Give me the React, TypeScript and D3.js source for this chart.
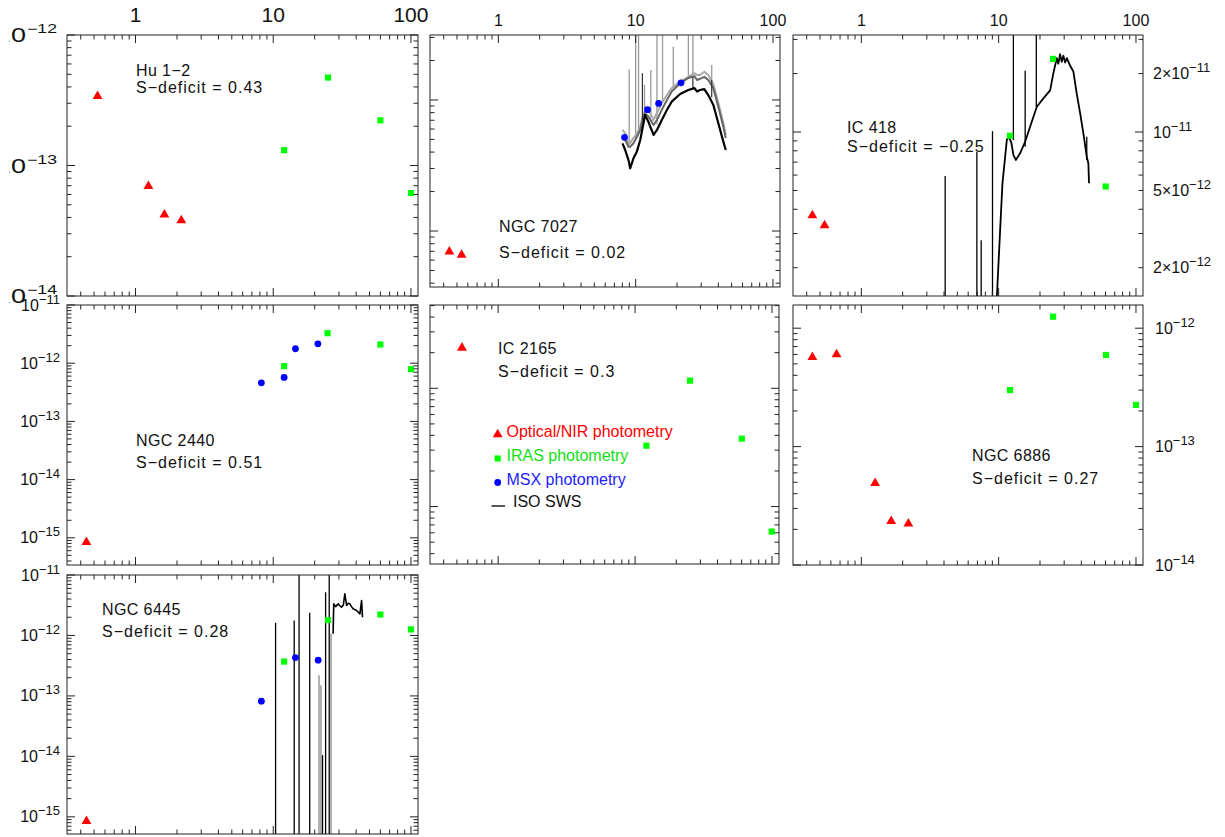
import * as d3 from 'd3';

type Pt = [number, number];
type Seg = [number, number, number]; // wavelength, low flux, high flux

// wavelength axis (micron), shared by every panel
const xDomain: [number, number] = [0.318, 112.5];
const xTickLabels = [1, 10, 100];

// y tick labels
const hu12YTicks = [1e-12, 1e-13, 1e-14];
const ic418YTicks = [2e-11, 1e-11, 5e-12, 2e-12];
const ngc2440YTicks = [1e-11, 1e-12, 1e-13, 1e-14, 1e-15];
const ngc6886YTicks = [1e-12, 1e-13, 1e-14];
const ngc6445YTicks = [1e-11, 1e-12, 1e-13, 1e-14, 1e-15];

// Hu 1-2
const hu12Optical: Pt[] = [[0.53, 3.4e-13], [1.24, 6.95e-14], [1.62, 4.2e-14], [2.15, 3.8e-14]];
const hu12Iras: Pt[] = [[12, 1.31e-13], [25, 4.72e-13], [60, 2.22e-13], [100, 6.15e-14]];

// NGC 7027
const ngc7027Optical: Pt[] = [[0.44, 6.95e-12], [0.54, 6.56e-12]];
const ngc7027Msx: Pt[] = [[8.3, 5.19e-11], [12.2, 8.43e-11], [14.7, 9.4e-11], [21.4, 1.35e-10]];
const ngc7027SwsWave = [8.02, 8.39, 8.87, 9.12, 9.64, 10.2, 10.8, 11.4, 11.7, 12.4, 13.5, 14.3, 15.5, 16.9, 18.3, 21.1, 24.2, 26.8, 28.0, 29.4, 31.6, 33.8, 36.8, 40.0, 43.5, 45.3];
const ngc7027SwsBlack = [4.67e-11, 4.15e-11, 3.48e-11, 3.01e-11, 3.59e-11, 4.03e-11, 4.95e-11, 6.64e-11, 7.68e-11, 6.79e-11, 5.41e-11, 5.9e-11, 7.03e-11, 8.4e-11, 9.7e-11, 1.11e-10, 1.19e-10, 1.23e-10, 1.16e-10, 1.19e-10, 1.21e-10, 1.09e-10, 9.16e-11, 6.64e-11, 4.81e-11, 4.15e-11];
const ngc7027SwsDark = [5.22e-11, 4.95e-11, 4.4e-11, 4.38e-11, 4.67e-11, 5.22e-11, 5.9e-11, 7.55e-11, 7.91e-11, 7.46e-11, 6.44e-11, 7.03e-11, 8.4e-11, 1.0e-10, 1.16e-10, 1.34e-10, 1.47e-10, 1.52e-10, 1.42e-10, 1.45e-10, 1.5e-10, 1.42e-10, 1.23e-10, 8.89e-11, 6.25e-11, 5.11e-11];
const ngc7027SwsLight = [5.9e-11, 5.57e-11, 4.53e-11, 4.7e-11, 5.13e-11, 5.5e-11, 6.25e-11, 7.91e-11, 8.24e-11, 8.4e-11, 7.03e-11, 7.96e-11, 9.48e-11, 1.09e-10, 1.23e-10, 1.38e-10, 1.5e-10, 1.6e-10, 1.55e-10, 1.55e-10, 1.64e-10, 1.55e-10, 1.32e-10, 9.48e-11, 6.67e-11, 5.41e-11];
const ngc7027LinesGray: Seg[] = [[8.97, 4.53e-11, 1.71e-10], [10.0, 5.1e-11, 1e-9], [10.5, 5.6e-11, 1e-9], [11.6, 7.9e-11, 1.3e-10], [12.9, 7.4e-11, 1.69e-10], [14.3, 6.5e-11, 1e-9], [15.7, 9.5e-11, 1e-9], [18.8, 1.24e-10, 2.55e-10], [24.2, 1.5e-10, 1e-9], [26.1, 1.55e-10, 1e-9], [35.8, 1.42e-10, 1.85e-10]];
const ngc7027LinesDark: Seg[] = [[11.2, 7.0e-11, 1.6e-10], [26.1, 1.21e-10, 1.5e-10], [35.8, 1.05e-10, 1.42e-10]];

// IC 418
const ic418Optical: Pt[] = [[0.44, 3.72e-12], [0.54, 3.3e-12]];
const ic418Iras: Pt[] = [[12.1, 9.57e-12], [24.9, 2.38e-11], [60.2, 5.24e-12]];
const ic418SwsWave = [9.65, 10.25, 10.66, 11.15, 11.47, 11.78, 12.33, 12.82, 13.34, 14.33, 15.58, 16.95, 18.96, 21.17, 23.7, 25.04, 26.5, 27.2, 28.0, 28.8, 29.6, 30.5, 31.4, 33.1, 35.0, 37.0, 39.2, 41.4, 43.8, 45.0, 45.5];
const ic418SwsFlux = [1.3e-12, 3.13e-12, 5.44e-12, 7.46e-12, 9.1e-12, 9.46e-12, 8.91e-12, 7.6e-12, 7.18e-12, 7.77e-12, 8.91e-12, 1.064e-11, 1.35e-11, 1.49e-11, 1.64e-11, 2.01e-11, 2.4e-11, 2.25e-11, 2.52e-11, 2.3e-11, 2.47e-11, 2.28e-11, 2.4e-11, 2.2e-11, 2.05e-11, 1.58e-11, 1.25e-11, 9.85e-12, 7.46e-12, 6.9e-12, 5.44e-12];
const ic418Lines: Seg[] = [[4.08, 1e-12, 5.93e-12], [6.94, 1e-12, 7.92e-12], [7.46, 1e-12, 2.77e-12], [9.02, 1e-12, 1.01e-11], [12.8, 9.1e-12, 1e-10], [15.6, 8.4e-12, 2.07e-11], [18.8, 1.35e-11, 1e-10], [43.8, 7.18e-12, 9.46e-12]];

// NGC 2440
const ngc2440Optical: Pt[] = [[0.44, 8.4e-16]];
const ngc2440Msx: Pt[] = [[8.2, 4.6e-13], [12.0, 5.7e-13], [14.5, 1.77e-12], [21.1, 2.15e-12]];
const ngc2440Iras: Pt[] = [[12, 8.9e-13], [24.8, 3.28e-12], [60, 2.1e-12], [100, 7.9e-13]];

// IC 2165
const ic2165Optical: Pt[] = [[0.544, 2.2e-12]];
const ic2165Iras: Pt[] = [[12.1, 3.27e-13], [25.2, 1.16e-12], [60.2, 3.75e-13], [99.5, 6.15e-14]];

// NGC 6886
const ngc6886Optical: Pt[] = [[0.44, 5.7e-13], [0.66, 6.0e-13], [1.26, 4.9e-14], [1.65, 2.35e-14], [2.2, 2.23e-14]];
const ngc6886Iras: Pt[] = [[12.1, 3.0e-13], [24.9, 1.25e-12], [60.5, 5.94e-13], [100, 2.25e-13]];

// NGC 6445
const ngc6445Optical: Pt[] = [[0.44, 8.5e-16]];
const ngc6445Msx: Pt[] = [[8.2, 8.2e-14], [14.5, 4.3e-13], [21.2, 3.9e-13]];
const ngc6445Iras: Pt[] = [[12, 3.7e-13], [25, 1.79e-12], [60, 2.22e-12], [100, 1.26e-12]];
const ngc6445SwsWave = [27.2, 27.5, 28.4, 29.6, 30.5, 31.3, 32.3, 33.1, 34.1, 35.0, 36.0, 37.0, 38.0, 40.3, 42.6, 43.8, 44.5];
const ngc6445SwsFlux = [1.07e-12, 3.33e-12, 3.0e-12, 3.33e-12, 3.1e-12, 2.93e-12, 3.2e-12, 4.88e-12, 3.13e-12, 3.4e-12, 3.33e-12, 3.0e-12, 2.76e-12, 2.59e-12, 2.28e-12, 3.78e-12, 2.0e-12];
const ngc6445Lines: Seg[] = [[10.4, 1e-16, 1.62e-12], [14.2, 1e-16, 1.77e-12], [15.4, 1e-16, 1e-10], [18.4, 1e-16, 2.37e-12], [22.8, 1e-16, 1.05e-14], [24.0, 1e-16, 5.19e-12], [25.5, 1e-16, 1e-10]];
const ngc6445LinesGray: Seg[] = [[21.5, 1e-16, 2.19e-13], [22.2, 1e-16, 1.5e-13], [26.3, 1e-16, 1.07e-12]];

const FONT = "'Liberation Sans', Arial, Helvetica, sans-serif";
const RED = '#ff0000';
const GREEN = '#00ff00';
const BLUE = '#0000ff';

const zipPts = (w: number[], f: number[]): Pt[] => w.map((v, i) => [v, f[i]]);

type Series =
  | { kind: 'tri' | 'sq' | 'dot'; pts: Pt[] }
  | { kind: 'line'; pts: Pt[]; color: string; width: number }
  | { kind: 'segs'; segs: Seg[]; color: string; width: number };

type Panel = {
  name: string;
  deficit: string;
  left: number; right: number; top: number; bottom: number;
  yDomain: [number, number];
  textX: number; textY: [number, number];
  topLabelSize?: number; topLabelY?: number;
  yLabels?: { side: 'left' | 'right' | 'bigleft'; values: number[]; x: number };
  series: Series[];
};

const panels: Panel[] = [
  {
    name: 'Hu 1−2', deficit: '0.43', left: 67, right: 418, top: 35, bottom: 296,
    yDomain: [1e-14, 1e-12], textX: 136, textY: [75.5, 93],
    topLabelSize: 21, topLabelY: 22,
    yLabels: { side: 'bigleft', values: hu12YTicks, x: 27 },
    series: [{ kind: 'tri', pts: hu12Optical }, { kind: 'sq', pts: hu12Iras }],
  },
  {
    name: 'NGC 7027', deficit: '0.02', left: 430, right: 780, top: 35, bottom: 287,
    yDomain: [3.74e-12, 3.13e-10], textX: 499, textY: [232, 258],
    topLabelSize: 16, topLabelY: 25.5,
    series: [
      { kind: 'segs', segs: ngc7027LinesGray, color: '#9a9a9a', width: 1.3 },
      { kind: 'line', pts: zipPts(ngc7027SwsWave, ngc7027SwsLight), color: '#a8a8a8', width: 2 },
      { kind: 'line', pts: zipPts(ngc7027SwsWave, ngc7027SwsDark), color: '#666666', width: 2 },
      { kind: 'segs', segs: ngc7027LinesDark, color: '#333333', width: 1.2 },
      { kind: 'line', pts: zipPts(ngc7027SwsWave, ngc7027SwsBlack), color: '#000000', width: 2.2 },
      { kind: 'tri', pts: ngc7027Optical },
      { kind: 'dot', pts: ngc7027Msx },
    ],
  },
  {
    name: 'IC 418', deficit: '−0.25', left: 793, right: 1143, top: 35, bottom: 296,
    yDomain: [1.43e-12, 3.16e-11], textX: 847, textY: [133, 152],
    topLabelSize: 16, topLabelY: 25.5,
    yLabels: { side: 'right', values: ic418YTicks, x: 1153 },
    series: [
      { kind: 'segs', segs: ic418Lines, color: '#000000', width: 1.3 },
      { kind: 'line', pts: zipPts(ic418SwsWave, ic418SwsFlux), color: '#000000', width: 1.8 },
      { kind: 'tri', pts: ic418Optical },
      { kind: 'sq', pts: ic418Iras },
    ],
  },
  {
    name: 'NGC 2440', deficit: '0.51', left: 67, right: 418, top: 305, bottom: 565,
    yDomain: [3.41e-16, 1e-11], textX: 136, textY: [445.5, 468],
    yLabels: { side: 'left', values: ngc2440YTicks, x: 60 },
    series: [
      { kind: 'tri', pts: ngc2440Optical },
      { kind: 'dot', pts: ngc2440Msx },
      { kind: 'sq', pts: ngc2440Iras },
    ],
  },
  {
    name: 'IC 2165', deficit: '0.3', left: 430, right: 779, top: 305, bottom: 564,
    yDomain: [3.27e-14, 5.06e-12], textX: 498, textY: [353.5, 377],
    series: [{ kind: 'tri', pts: ic2165Optical }, { kind: 'sq', pts: ic2165Iras }],
  },
  {
    name: 'NGC 6886', deficit: '0.27', left: 793, right: 1143, top: 305, bottom: 565,
    yDomain: [1e-14, 1.57e-12], textX: 972, textY: [460.5, 484],
    yLabels: { side: 'right', values: ngc6886YTicks, x: 1155 },
    series: [{ kind: 'tri', pts: ngc6886Optical }, { kind: 'sq', pts: ngc6886Iras }],
  },
  {
    name: 'NGC 6445', deficit: '0.28', left: 67, right: 418, top: 575, bottom: 834,
    yDomain: [5.2e-16, 1e-11], textX: 102, textY: [614.5, 636.5],
    yLabels: { side: 'left', values: ngc6445YTicks, x: 60 },
    series: [
      { kind: 'segs', segs: ngc6445LinesGray, color: '#999999', width: 1.5 },
      { kind: 'segs', segs: ngc6445Lines, color: '#000000', width: 1.3 },
      { kind: 'line', pts: zipPts(ngc6445SwsWave, ngc6445SwsFlux), color: '#000000', width: 1.6 },
      { kind: 'tri', pts: ngc6445Optical },
      { kind: 'dot', pts: ngc6445Msx },
      { kind: 'sq', pts: ngc6445Iras },
    ],
  },
];

const triPath = d3.symbol().type(d3.symbolTriangle).size(42)() as string;
const sqPath = d3.symbol().type(d3.symbolSquare).size(38)() as string;

function splitLabel(v: number) {
  const e = Math.floor(Math.log10(v) + 1e-9);
  const m = Math.round(v / Math.pow(10, e));
  return { base: m === 1 ? '10' : `${m}×10`, exp: `−${-e}` };
}

const isMajor = (v: number) => Math.abs(Math.log10(v) - Math.round(Math.log10(v))) < 1e-6;

function SedPanel({ p, id }: { p: Panel; id: number }) {
  const x = d3.scaleLog().domain(xDomain).range([p.left, p.right]);
  const y = d3.scaleLog().domain(p.yDomain).range([p.bottom, p.top]);
  const line = d3.line<Pt>().x((d) => x(d[0])).y((d) => y(d[1]));
  const xt = x.ticks();
  const yt = y.ticks();
  const ML = 8;
  const mL = 4.5;
  const clip = `clip-${id}`;

  return (
    <g>
      <defs>
        <clipPath id={clip}>
          <rect x={p.left} y={p.top} width={p.right - p.left} height={p.bottom - p.top} />
        </clipPath>
      </defs>

      <g clipPath={`url(#${clip})`}>
        {p.series.map((s, i) => {
          if (s.kind === 'line') {
            return <path key={i} d={line(s.pts) || ''} fill="none" stroke={s.color} strokeWidth={s.width} strokeLinejoin="round" />;
          }
          if (s.kind === 'segs') {
            return (
              <g key={i} stroke={s.color} strokeWidth={s.width}>
                {s.segs.map((g, j) => (
                  <line key={j} x1={x(g[0])} x2={x(g[0])} y1={y(g[1])} y2={y(g[2])} />
                ))}
              </g>
            );
          }
          return null;
        })}
      </g>

      {p.series.map((s, i) => {
        if (s.kind === 'tri') {
          return s.pts.map((d, j) => (
            <path key={`t${i}-${j}`} d={triPath} transform={`translate(${x(d[0])},${y(d[1])})`} fill={RED} />
          ));
        }
        if (s.kind === 'sq') {
          return s.pts.map((d, j) => (
            <path key={`s${i}-${j}`} d={sqPath} transform={`translate(${x(d[0])},${y(d[1])})`} fill={GREEN} />
          ));
        }
        if (s.kind === 'dot') {
          return s.pts.map((d, j) => (
            <circle key={`c${i}-${j}`} cx={x(d[0])} cy={y(d[1])} r={3.4} fill={BLUE} />
          ));
        }
        return null;
      })}

      <rect x={p.left} y={p.top} width={p.right - p.left} height={p.bottom - p.top} fill="none" stroke="#222" strokeWidth={1} />

      <g stroke="#222" strokeWidth={1}>
        {xt.map((v, i) => {
          const len = isMajor(v) ? ML : mL;
          const px = x(v);
          return (
            <g key={`xt${i}`}>
              <line x1={px} x2={px} y1={p.bottom} y2={p.bottom - len} />
              <line x1={px} x2={px} y1={p.top} y2={p.top + len} />
            </g>
          );
        })}
        {yt.map((v, i) => {
          const len = isMajor(v) ? ML : mL;
          const py = y(v);
          return (
            <g key={`yt${i}`}>
              <line x1={p.left} x2={p.left + len} y1={py} y2={py} />
              <line x1={p.right} x2={p.right - len} y1={py} y2={py} />
            </g>
          );
        })}
      </g>

      {p.topLabelSize &&
        xTickLabels.map((v) => (
          <text key={`xl${v}`} x={x(v)} y={p.topLabelY} textAnchor="middle" fontSize={p.topLabelSize} fontFamily={FONT} fill="#111">
            {v}
          </text>
        ))}

      {p.yLabels && p.yLabels.side === 'bigleft' && (
        <g clipPath="url(#bigleft-clip)" fill="#111" fontFamily={FONT}>
          {p.yLabels.values.map((v) => {
            const l = splitLabel(v);
            const py = y(v);
            return (
              <g key={`yl${v}`}>
                <text x={-4} y={py + 7} fontSize={20} textLength={30} lengthAdjust="spacingAndGlyphs">{l.base}</text>
                <text x={p.yLabels!.x} y={py - 2} fontSize={12} textLength={30} lengthAdjust="spacingAndGlyphs">{l.exp}</text>
              </g>
            );
          })}
        </g>
      )}

      {p.yLabels && p.yLabels.side !== 'bigleft' &&
        p.yLabels.values.map((v) => {
          const l = splitLabel(v);
          return (
            <text
              key={`yl${v}`}
              x={p.yLabels!.x}
              y={y(v) + 5.5}
              textAnchor={p.yLabels!.side === 'left' ? 'end' : 'start'}
              fontSize={16}
              fontFamily={FONT}
              fill="#111"
            >
              {l.base}
              <tspan fontSize={13} dy={-7}>{l.exp}</tspan>
            </text>
          );
        })}

      <g fontFamily={FONT} fontSize={16} fill="#111" style={{ whiteSpace: 'pre' }}>
        <text x={p.textX} y={p.textY[0]} letterSpacing={0.4}>{p.name}</text>
        <text x={p.textX} y={p.textY[1]} letterSpacing={1}>{`S−deficit  =  ${p.deficit}`}</text>
      </g>
    </g>
  );
}

function Legend() {
  const items = [
    { label: 'Optical/NIR photometry', color: RED, y: 434.5, mark: 'tri' },
    { label: 'IRAS photometry', color: '#11e011', y: 458.5, mark: 'sq' },
    { label: 'MSX photometry', color: '#2222ff', y: 482.5, mark: 'dot' },
  ];
  const mx = 497.7;
  return (
    <g fontFamily={FONT} fontSize={16}>
      {items.map((it) => (
        <g key={it.label}>
          {it.mark === 'tri' && <path d={triPath} transform={`translate(${mx},${it.y})`} fill={RED} />}
          {it.mark === 'sq' && <path d={sqPath} transform={`translate(${mx},${it.y})`} fill={GREEN} />}
          {it.mark === 'dot' && <circle cx={mx} cy={it.y} r={3.4} fill={BLUE} />}
          <text x={506.5} y={it.y + 2} fill={it.color}>{it.label}</text>
        </g>
      ))}
      <line x1={491.5} x2={505} y1={506} y2={506} stroke="#000" strokeWidth={1.3} />
      <text x={513} y={507} fill="#111">ISO SWS</text>
    </g>
  );
}

export default function App() {
  return (
    <svg
      width={1225}
      height={837}
      viewBox="0 0 1225 837"
      style={{ position: 'absolute', left: 0, top: 0, display: 'block', background: '#fff' }}
    >
      <defs>
        <clipPath id="bigleft-clip">
          <rect x={9.5} y={0} width={60} height={320} />
        </clipPath>
      </defs>
      <rect x={0} y={0} width={1225} height={837} fill="#fff" />
      {panels.map((p, i) => (
        <SedPanel key={p.name} p={p} id={i} />
      ))}
      <Legend />
    </svg>
  );
}
